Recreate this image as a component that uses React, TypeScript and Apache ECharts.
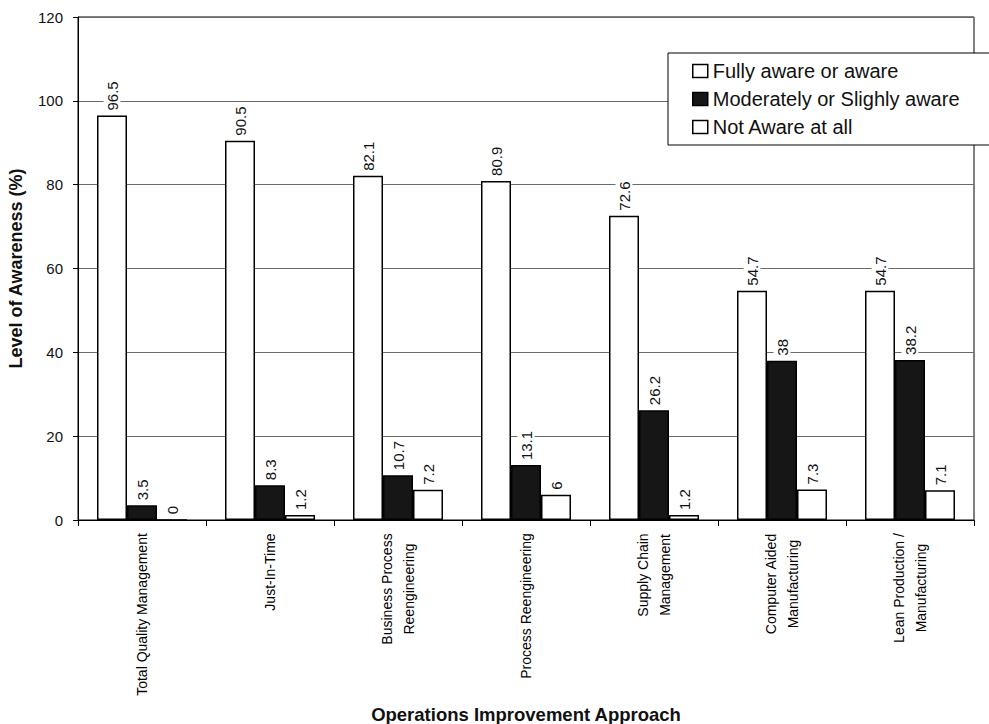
import React, { useEffect, useRef } from "react";
import * as echarts from "echarts";

const categories = [
  "Total Quality Management",
  "Just-In-Time",
  "Business Process\nReengineering",
  "Process Reengineering",
  "Supply Chain\nManagement",
  "Computer Aided\nManufacturing",
  "Lean Production /\nManufacturing",
];

const seriesNames = [
  "Fully aware or aware",
  "Moderately or Slighly aware",
  "Not Aware at all",
];

const fullyAware = [96.5, 90.5, 82.1, 80.9, 72.6, 54.7, 54.7];
const moderatelyAware = [3.5, 8.3, 10.7, 13.1, 26.2, 38, 38.2];
const notAware = [0, 1.2, 7.2, 6, 1.2, 7.3, 7.1];

const yTicks = [0, 20, 40, 60, 80, 100, 120];

const FONT = "'Liberation Sans', Arial, Helvetica, sans-serif";
const LABEL_SIZE = 14;

// Width of a text line, used to center multi-line rotated category labels.
function measure(text: string, size: number): number {
  const c = document.createElement("canvas").getContext("2d");
  if (!c) return text.length * size * 0.55;
  c.font = `${size}px ${FONT}`;
  return c.measureText(text).width;
}

export default function App() {
  const ref = useRef<HTMLDivElement>(null);

  useEffect(() => {
    if (!ref.current) return;
    const chart = echarts.init(ref.current, undefined, { renderer: "svg" });

    const rich: Record<string, any> = {};
    categories.forEach((c, i) => {
      const lines = c.split("\n");
      const w = Math.ceil(Math.max(...lines.map((l) => measure(l, LABEL_SIZE)))) + 2;
      rich["c" + i] = {
        width: w,
        align: "center",
        fontSize: LABEL_SIZE,
        fontFamily: FONT,
        color: "#000",
        lineHeight: 22,
      };
    });

    const colors = ["#ffffff", "#161616", "#ffffff"];
    const dataSets = [fullyAware, moderatelyAware, notAware];

    chart.setOption({
      animation: false,
      backgroundColor: "#ffffff",
      textStyle: { fontFamily: FONT },
      grid: {
        left: 78,
        right: 15,
        top: 17,
        bottom: 204,
        outerBoundsMode: "none",
        show: true,
        borderColor: "#000",
        borderWidth: 1,
        backgroundColor: "transparent",
      },
      legend: {
        orient: "vertical",
        left: 668,
        top: 53,
        backgroundColor: "#fff",
        borderColor: "#000",
        borderWidth: 1,
        borderRadius: 0,
        padding: [8, 60, 8, 24],
        itemGap: 8,
        itemWidth: 15,
        itemHeight: 13,
        textStyle: { fontSize: 20, color: "#111", fontFamily: FONT },
        data: seriesNames.map((n, i) => ({
          name: n,
          icon: "rect",
          itemStyle: {
            color: colors[i],
            borderColor: "#000",
            borderWidth: 1.5,
          },
        })),
      },
      xAxis: {
        type: "category",
        data: categories,
        name: "Operations Improvement Approach",
        nameLocation: "middle",
        nameGap: 185,
        nameTextStyle: {
          fontSize: 18.5,
          fontWeight: "bold",
          color: "#111",
          fontFamily: FONT,
        },
        axisLine: { lineStyle: { color: "#000", width: 1 } },
        axisTick: { show: true, length: 6, lineStyle: { color: "#000" } },
        axisLabel: {
          rotate: 90,
          interval: 0,
          margin: 12,
          formatter: (v: string) => {
            const i = categories.indexOf(v);
            return v
              .split("\n")
              .map((l) => `{c${i}|${l}}`)
              .join("\n");
          },
          rich,
        },
      },
      yAxis: {
        type: "value",
        min: 0,
        max: 120,
        interval: 20,
        name: "Level of Awareness (%)",
        nameLocation: "middle",
        nameGap: 53,
        nameTextStyle: {
          fontSize: 18,
          fontWeight: "bold",
          color: "#111",
          fontFamily: FONT,
        },
        axisLine: { show: true, lineStyle: { color: "#000", width: 1 } },
        axisTick: { show: true, length: 5, lineStyle: { color: "#000" } },
        axisLabel: {
          margin: 15,
          fontSize: 15,
          color: "#111",
          fontFamily: FONT,
          formatter: (v: number) => (yTicks.includes(v) ? String(v) : ""),
        },
        splitLine: { show: true, lineStyle: { color: "#6a6a6a", width: 1 } },
      },
      series: seriesNames.map((n, i) => ({
        name: n,
        type: "bar",
        data: dataSets[i],
        barWidth: 30,
        barGap: "0%",
        itemStyle: {
          color: colors[i],
          borderColor: "#000",
          borderWidth: 1.5,
        },
        label: {
          show: true,
          position: "top",
          rotate: 90,
          align: "left",
          verticalAlign: "middle",
          distance: 5,
          fontSize: 15,
          color: "#111",
          fontFamily: FONT,
          backgroundColor: "#fff",
          padding: [1, 0],
          formatter: (p: any) => String(p.value),
        },
      })),
    });

    return () => chart.dispose();
  }, []);

  return (
    <div
      ref={ref}
      style={{ position: "fixed", left: 0, top: 0, width: 989, height: 724 }}
    />
  );
}
